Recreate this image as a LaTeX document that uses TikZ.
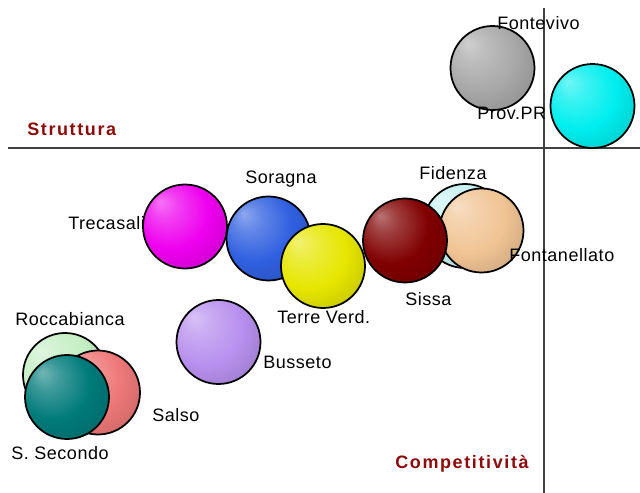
\documentclass[tikz,border=0pt]{standalone}
\usepackage{fontspec}
\setmainfont{Liberation Sans}
\definecolor{axisred}{HTML}{8B0A0A}
\definecolor{axisgray}{HTML}{404040}
\definecolor{cfontevivo}{HTML}{A8A8A8}
\definecolor{cprovpr}{HTML}{00EEEE}
\definecolor{ctrecasali}{HTML}{EE00EE}
\definecolor{csoragna}{HTML}{3060E0}
\definecolor{cterreverd}{HTML}{E6E600}
\definecolor{cfidenza}{HTML}{C4F0F0}
\definecolor{cfontanellato}{HTML}{F0C494}
\definecolor{csissa}{HTML}{800000}
\definecolor{cbusseto}{HTML}{B890EE}
\definecolor{croccabianca}{HTML}{C4EEC4}
\definecolor{csalso}{HTML}{EE7878}
\definecolor{cssecondo}{HTML}{007A7A}
\colorlet{bubblecol}{gray}
\pgfdeclareradialshading[bubblecol]{bubble}{\pgfpoint{-15bp}{15bp}}{%
  color(0bp)=(bubblecol!55!white); color(8bp)=(bubblecol!75!white);
  color(22bp)=(bubblecol); color(36bp)=(bubblecol!85!black);
  color(50bp)=(bubblecol!70!black)}
\tikzset{ball/.style = {circle, draw = black, line width = 1.3pt, minimum size = 63pt,
    inner sep = 0, shade, shading = bubble, /utils/exec = {\colorlet{bubblecol}{#1}}}}
\tikzset{lab/.style = {anchor = base west, inner sep = 0,
    font = \fontsize{13.5}{16}\selectfont\addfontfeature{LetterSpace=3}}}
\tikzset{axlab/.style = {lab, text = axisred,
    font = \fontsize{13.5}{16}\selectfont\bfseries\addfontfeature{LetterSpace=9}}}

\begin{document}
\begin{tikzpicture}[x = 0.75pt, y = -0.75pt]
    \useasboundingbox (0,0) rectangle (640,493);
    % axes
    \coordinate (hl) at (8,148);
    \coordinate (hr) at (640,148);
    \coordinate (vt) at (544,8);
    \coordinate (vb) at (544,493);
    \draw [axisgray, line width = 0.9pt] (hl) -- (hr);
    \draw [axisgray, line width = 0.9pt] (vt) -- (vb);
    % bubbles
    \node [ball = cfontevivo] (fontevivo) at (492.5,68) {};
    \node [ball = cprovpr] (provpr) at (592.5,106) {};
    \node [ball = ctrecasali] (trecasali) at (185,226.5) {};
    \node [ball = csoragna] (soragna) at (268.5,238.5) {};
    \node [ball = cterreverd] (terreverd) at (323,266) {};
    \node [ball = cfidenza] (fidenza) at (465,226) {};
    \node [ball = cfontanellato] (fontanellato) at (481.5,230.5) {};
    \node [ball = csissa] (sissa) at (405,240.5) {};
    \node [ball = cbusseto] (busseto) at (218.5,342) {};
    \node [ball = croccabianca] (roccabianca) at (65,375) {};
    \node [ball = csalso] (salso) at (98,392.5) {};
    \node [ball = cssecondo] (ssecondo) at (67,397) {};
    % labels
    \node [lab] (l-fontevivo) at (497,29) {Fontevivo};
    \node [lab] (l-provpr) at (477,119) {Prov.PR};
    \node [lab] (l-trecasali) at (68,229) {Trecasali};
    \node [lab] (l-soragna) at (245,183) {Soragna};
    \node [lab] (l-terreverd) at (277,323) {Terre Verd.};
    \node [lab] (l-fidenza) at (419,179) {Fidenza};
    \node [lab] (l-fontanellato) at (509,261) {Fontanellato};
    \node [lab] (l-sissa) at (405,305) {Sissa};
    \node [lab] (l-busseto) at (263,368) {Busseto};
    \node [lab] (l-roccabianca) at (15,325) {Roccabianca};
    \node [lab] (l-salso) at (152,421.5) {Salso};
    \node [lab] (l-ssecondo) at (11,459) {S. Secondo};
    \node [axlab] (struttura) at (27,135) {Struttura};
    \node [axlab] (competitivita) at (395,468) {Competitività};
\end{tikzpicture}
\end{document}
